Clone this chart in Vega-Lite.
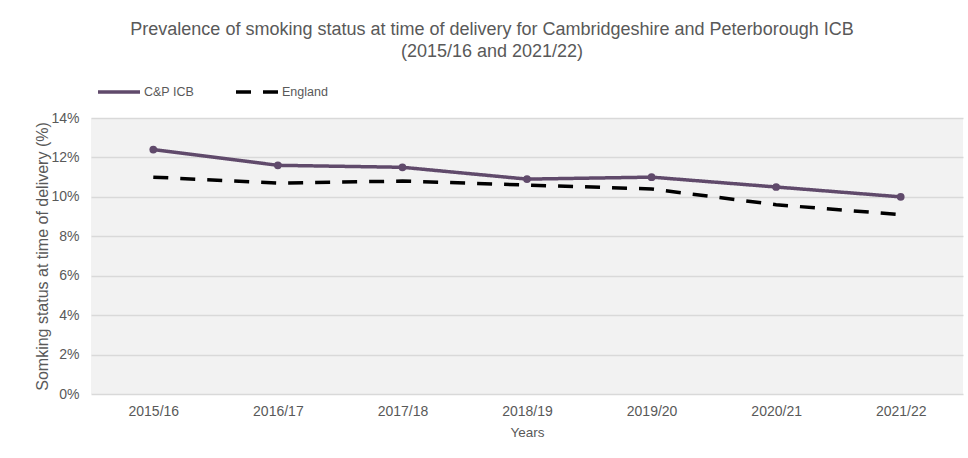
{
  "$schema": "https://vega.github.io/schema/vega-lite/v6.json",
  "autosize": "none",
  "width": 872,
  "height": 276,
  "padding": {"left": 91, "top": 118, "right": 5, "bottom": 64},
  "background": "white",
  "title": {
    "text": ["Prevalence of smoking status at time of delivery for Cambridgeshire and Peterborough ICB", "(2015/16 and 2021/22)"],
    "font": "Liberation Sans",
    "fontSize": 18,
    "fontWeight": "normal",
    "color": "#595959",
    "lineHeight": 22,
    "anchor": "middle",
    "dx": -35,
    "offset": 8
  },
  "config": {
    "view": {"fill": "#f2f2f2", "stroke": null},
    "font": "Liberation Sans"
  },
  "data": {
    "values": [
      {"year": "2015/16", "series": "C&P ICB", "value": 12.4},
      {"year": "2016/17", "series": "C&P ICB", "value": 11.6},
      {"year": "2017/18", "series": "C&P ICB", "value": 11.5},
      {"year": "2018/19", "series": "C&P ICB", "value": 10.9},
      {"year": "2019/20", "series": "C&P ICB", "value": 11.0},
      {"year": "2020/21", "series": "C&P ICB", "value": 10.5},
      {"year": "2021/22", "series": "C&P ICB", "value": 10.0},
      {"year": "2015/16", "series": "England", "value": 11.0},
      {"year": "2016/17", "series": "England", "value": 10.7},
      {"year": "2017/18", "series": "England", "value": 10.8},
      {"year": "2018/19", "series": "England", "value": 10.6},
      {"year": "2019/20", "series": "England", "value": 10.4},
      {"year": "2020/21", "series": "England", "value": 9.6},
      {"year": "2021/22", "series": "England", "value": 9.1}
    ]
  },
  "encoding": {
    "x": {
      "field": "year",
      "type": "ordinal",
      "scale": {"type": "point", "padding": 0.5},
      "axis": {
        "title": "Years",
        "titleFont": "Liberation Sans",
        "titleFontSize": 13.5,
        "titleFontWeight": "normal",
        "titleColor": "#595959",
        "titlePadding": 7,
        "labelAngle": 0,
        "labelFontSize": 14,
        "labelColor": "#595959",
        "labelPadding": 10,
        "domain": false,
        "ticks": false,
        "grid": false
      }
    },
    "y": {
      "field": "value",
      "type": "quantitative",
      "scale": {"domain": [0, 14]},
      "axis": {
        "values": [0, 2, 4, 6, 8, 10, 12, 14],
        "labelExpr": "datum.value + '%'",
        "title": "Somking status at time of delivery (%)",
        "titleFont": "Liberation Sans",
        "titleFontSize": 16,
        "titleFontWeight": "normal",
        "titleColor": "#595959",
        "titlePadding": 0,
        "labelFontSize": 14,
        "labelColor": "#595959",
        "labelPadding": 12,
        "domain": false,
        "ticks": false,
        "grid": true,
        "gridColor": "#d9d9d9",
        "gridWidth": 1.5
      }
    }
  },
  "layer": [
    {
      "mark": {"type": "line", "strokeWidth": 3.5},
      "encoding": {
        "color": {
          "field": "series",
          "type": "nominal",
          "scale": {"domain": ["C&P ICB", "England"], "range": ["#604a6b", "#000000"]},
          "legend": {
            "title": null,
            "orient": "none",
            "legendX": 5,
            "legendY": -49,
            "direction": "horizontal",
            "symbolType": "stroke",
            "symbolSize": 1764,
            "symbolStrokeWidth": 3.5,
            "labelFontSize": 12.5,
            "labelColor": "#595959",
            "labelOffset": 2,
            "columnPadding": 34
          }
        },
        "strokeDash": {
          "field": "series",
          "type": "nominal",
          "scale": {"domain": ["C&P ICB", "England"], "range": [[1, 0], [15, 12]]},
          "legend": {
            "title": null,
            "orient": "none",
            "legendX": 5,
            "legendY": -49,
            "direction": "horizontal",
            "symbolType": "stroke",
            "symbolSize": 1764,
            "symbolStrokeWidth": 3.5,
            "labelFontSize": 12.5,
            "labelColor": "#595959",
            "labelOffset": 2,
            "columnPadding": 34
          }
        }
      }
    },
    {
      "transform": [{"filter": "datum.series === 'C&P ICB'"}],
      "mark": {"type": "point", "filled": true, "size": 60, "opacity": 1, "color": "#604a6b"},
      "encoding": {}
    }
  ]
}
